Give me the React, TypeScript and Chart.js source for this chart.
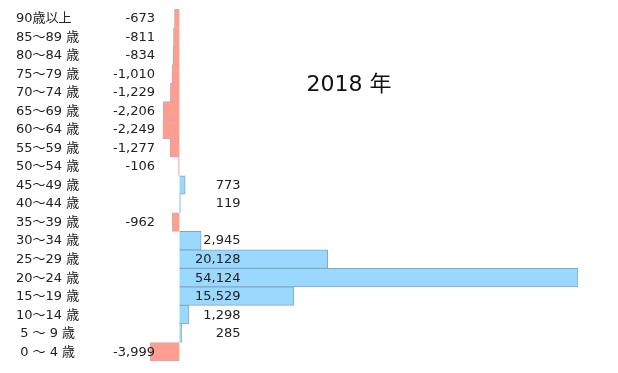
import React, { useEffect, useRef } from "react";
import { Chart, registerables } from "chart.js";

Chart.register(...registerables);

const categories = [
  "90歳以上", "85～89 歳", "80～84 歳", "75～79 歳", "70～74 歳", "65～69 歳",
  "60～64 歳", "55～59 歳", "50～54 歳", "45～49 歳", "40～44 歳", "35～39 歳",
  "30～34 歳", "25～29 歳", "20～24 歳", "15～19 歳", "10～14 歳", " 5 ～ 9 歳", " 0 ～ 4 歳",
];
const values = [
  -673, -811, -834, -1010, -1229, -2206,
  -2249, -1277, -106, 773, 119, -962,
  2945, 20128, 54124, 15529, 1298, 285, -3999,
];
const titleText = "2018 年";

const FONT = "'DejaVu Sans', 'Noto Sans CJK JP', sans-serif";
const NEG_FILL = "#ff9d90";
const NEG_BORDER = "#d0a8a8";
const POS_FILL = "#9ad8fd";
const POS_BORDER = "#80a9c6";

export default function App() {
  const ref = useRef<HTMLCanvasElement | null>(null);
  useEffect(() => {
    if (!ref.current) return;
    const labelPlugin = {
      id: "labels",
      afterDatasetsDraw(chart: any) {
        const ctx = chart.ctx;
        const xs = chart.scales.x;
        const ys = chart.scales.y;
        const zero = xs.getPixelForValue(0);
        ctx.save();
        ctx.fillStyle = "#222";
        ctx.textBaseline = "middle";
        ctx.font = `13px ${FONT}`;
        categories.forEach((c, i) => {
          const y = ys.getPixelForValue(i) + 0.5;
          ctx.textAlign = "left";
          ctx.fillText(c, 16, y);
          const v = values[i];
          const txt = v.toLocaleString("en-US");
          ctx.textAlign = "right";
          if (v < 0) ctx.fillText(txt, zero - 24.5, y);
          else ctx.fillText(txt, zero + 61, y);
        });
        ctx.font = `22px ${FONT}`;
        ctx.textAlign = "center";
        ctx.fillStyle = "#111";
        ctx.fillText(titleText, 349, 85);
        ctx.restore();
      },
    };
    const chart = new Chart(ref.current, {
      type: "bar",
      data: {
        labels: categories,
        datasets: [
          {
            data: values,
            backgroundColor: values.map((v) => (v < 0 ? NEG_FILL : POS_FILL)),
            borderColor: values.map((v) => (v < 0 ? NEG_BORDER : POS_BORDER)),
            borderWidth: 1,
            barPercentage: 1,
            categoryPercentage: 1,
          },
        ],
      },
      options: {
        indexAxis: "y",
        animation: false,
        responsive: true,
        maintainAspectRatio: false,
        layout: { padding: { left: 150, right: 40, top: 9, bottom: 12 } },
        plugins: { legend: { display: false }, tooltip: { enabled: false }, title: { display: false } },
        scales: {
          x: { display: false, min: -3999, max: 54124 },
          y: { display: false },
        },
      },
      plugins: [labelPlugin],
    } as any);
    return () => chart.destroy();
  }, []);
  return (
    <div style={{ position: "absolute", left: 0, top: 0, width: 618, height: 373, background: "#fff" }}>
      <canvas ref={ref} />
    </div>
  );
}
